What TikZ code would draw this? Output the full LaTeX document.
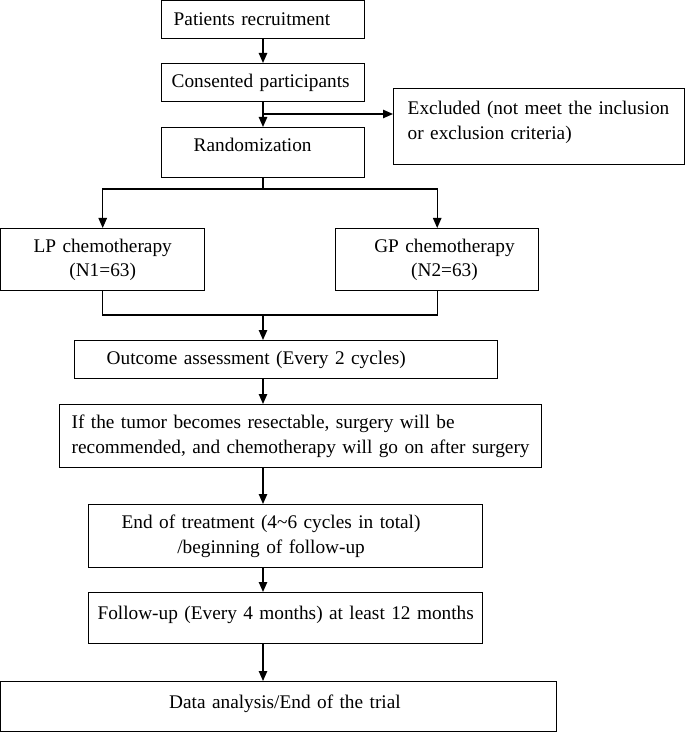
\documentclass[tikz,border=0pt]{standalone}
\usepackage{fontspec}
\setmainfont{Liberation Serif}
\usetikzlibrary{arrows.meta}
\tikzstyle{box} = [draw, line width=0.7pt, anchor=north west, inner ysep=0pt, align=left, font=\fontsize{9.65}{12.2}\selectfont]
\tikzstyle{arrow} = [line width=0.65pt,->,>={Triangle[length=5pt,width=4.2pt]}]
\tikzstyle{line} = [line width=0.65pt]

\begin{document}
\begin{tikzpicture}[x=0.5pt,y=-0.5pt]
    \useasboundingbox (0,0) rectangle (685,732);
    % \draw[step=50,gray,very thin] (0,0) grid (685,732);
    \node[box, minimum height=19pt, inner xsep=6pt, text width=89.5pt] (recruit) at (161,0) {Patients recruitment};
    \node[box, minimum height=19pt, inner xsep=5pt, text width=91.5pt] (consent) at (161,63) {Consented participants};
    \node[box, minimum height=25pt, inner xsep=16pt, text width=69.5pt, text depth=8pt] (random) at (161,127) {Randomization};
    \node[box, minimum height=38pt, inner xsep=7pt, text width=131.5pt, text depth=18.5pt] (excl) at (393,88) {Excluded (not meet the inclusion\\or exclusion criteria)};
    \node[box, align=center, minimum height=31pt, inner xsep=6pt, text width=90pt] (lp) at (0,228) {LP chemotherapy\\(N1=63)};
    \node[box, align=right, minimum height=31pt, inner xsep=12pt, text width=77.5pt] (gp) at (335,228) {\begin{tabular}{@{}c@{}}GP chemotherapy\\(N2=63)\end{tabular}};
    \node[box, minimum height=19pt, inner xsep=16pt, text width=179.5pt] (outcome) at (74,340) {Outcome assessment (Every 2 cycles)};
    \node[box, minimum height=31.5pt, inner xsep=6pt, text width=229pt] (ifbox) at (59,404) {If the tumor becomes resectable, surgery will be\\recommended, and chemotherapy will go on after surgery};
    \node[box, minimum height=31.5pt, inner xsep=16.5pt, text width=164pt] (endbox) at (88,504) {\begin{tabular}{@{}c@{}}End of treatment (4\textasciitilde6 cycles in total)\\/beginning of follow-up\end{tabular}};
    \node[box, align=center, minimum height=25.5pt, inner xsep=4pt, text width=189pt, text depth=5.5pt] (follow) at (88,592) {Follow-up (Every 4 months) at least 12 months};
    \node[box, align=right, minimum height=25pt, inner xsep=78pt, text width=122pt, text depth=5.5pt] (data) at (0,681) {Data analysis/End of the trial};

    \coordinate (axis) at (263,0);
    \coordinate (split) at (263,114);
    \coordinate (branch) at (263,189);
    \coordinate (merge) at (263,315);

    \draw[arrow] (recruit.south -| axis) -- (consent.north -| axis);
    \draw[arrow] (consent.south -| axis) -- (random.north -| axis);
    \draw[arrow] (split) -- (split -| excl.west);
    \draw[line] (random.south -| axis) -- (branch);
    \draw[arrow] (branch) -| (lp.north);
    \draw[arrow] (branch) -| (gp.north);
    \draw[line] (lp.south) |- (merge);
    \draw[line] (gp.south) |- (merge);
    \draw[arrow] (merge) -- (outcome.north -| axis);
    \draw[arrow] (outcome.south -| axis) -- (ifbox.north -| axis);
    \draw[arrow] (ifbox.south -| axis) -- (endbox.north -| axis);
    \draw[arrow] (endbox.south -| axis) -- (follow.north -| axis);
    \draw[arrow] (follow.south -| axis) -- (data.north -| axis);
\end{tikzpicture}
\end{document}
